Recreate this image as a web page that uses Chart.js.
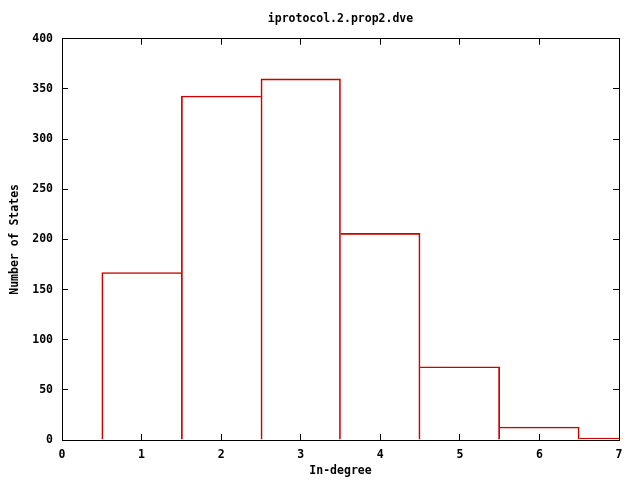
<!DOCTYPE html>
<html><head><meta charset="utf-8">
<script src="https://cdn.jsdelivr.net/npm/chart.js@4"></script>
<style>html,body{margin:0;padding:0;background:#fff}canvas{display:block}</style>
</head><body>
<canvas id="c" width="640" height="480"></canvas>
<script>
const inDegree = [1, 2, 3, 4, 5, 6, 7];
const numStates = [167, 343, 360, 206, 73, 13, 2];
const xTicks = [0, 1, 2, 3, 4, 5, 6, 7];
const yTicks = [0, 50, 100, 150, 200, 250, 300, 350, 400];
const titleText = 'iprotocol.2.prop2.dve';
const xTitle = 'In-degree';
const yTitle = 'Number of States';

const FONT = { family: '"DejaVu Sans Mono", "Liberation Mono", monospace', size: 11.5, weight: 'bold', lineHeight: 1.2 };
const RED = '#cc0000';

const pts = inDegree.map((x, i) => ({ x: x, y: numStates[i] }));

// draw each shared edge once (outline like gnuplot boxes)
function edgeWidths(ctx) {
  const i = ctx.dataIndex, v = numStates;
  return {
    top: 1,
    bottom: 0,
    left: (i === 0 || v[i] >= v[i - 1]) ? 1 : 0,
    right: (i === v.length - 1 || v[i] > v[i + 1]) ? 1 : 0
  };
}

Chart.defaults.font = FONT;
Chart.defaults.color = '#000';

new Chart(document.getElementById('c'), {
  type: 'bar',
  data: {
    datasets: [{
      data: pts,
      backgroundColor: 'rgba(255,255,255,0)',
      borderColor: RED,
      borderWidth: edgeWidths,
      borderSkipped: false,
      barPercentage: 1,
      categoryPercentage: 1,
      clip: 0,
      xAxisID: 'x',
      yAxisID: 'y'
    }]
  },
  options: {
    responsive: false,
    animation: false,
    events: [],
    layout: { padding: { left: 0, right: 21, top: 0, bottom: 0 } },
    plugins: {
      legend: { display: false },
      tooltip: { enabled: false },
      title: {
        display: true,
        fullSize: false,
        text: titleText,
        font: FONT,
        color: '#000',
        padding: { top: 12, bottom: 13 }
      }
    },
    scales: {
      x: {
        type: 'linear', position: 'bottom', min: 0, max: 7, offset: false,
        afterBuildTicks: s => { s.ticks = xTicks.map(v => ({ value: v })); },
        afterFit: s => { s.height = 40; },
        ticks: { font: FONT, color: '#000', padding: 14, maxRotation: 0, autoSkip: false },
        grid: { offset: false, drawOnChartArea: false, drawTicks: true, tickLength: -6, color: '#000', lineWidth: 1 },
        border: { display: true, color: '#000', width: 1 },
        title: { display: true, text: xTitle, font: FONT, color: '#000', padding: { top: 0, bottom: 2 } }
      },
      x2: {
        type: 'linear', position: 'top', min: 0, max: 7, offset: false,
        afterBuildTicks: s => { s.ticks = xTicks.map(v => ({ value: v })); },
        afterFit: s => { s.height = 0; },
        ticks: { display: false },
        grid: { offset: false, drawOnChartArea: false, drawTicks: true, tickLength: -6, color: '#000', lineWidth: 1 },
        border: { display: true, color: '#000', width: 1 }
      },
      y: {
        type: 'linear', position: 'left', min: 0, max: 400,
        afterBuildTicks: s => { s.ticks = yTicks.map(v => ({ value: v })); },
        afterFit: s => { s.width = 62; },
        ticks: { font: FONT, color: '#000', padding: 15 },
        grid: { drawOnChartArea: false, drawTicks: true, tickLength: -6, color: '#000', lineWidth: 1 },
        border: { display: true, color: '#000', width: 1 },
        title: { display: true, text: yTitle, font: FONT, color: '#000', padding: { top: 8, bottom: 0 } }
      },
      y2: {
        type: 'linear', position: 'right', min: 0, max: 400,
        afterBuildTicks: s => { s.ticks = yTicks.map(v => ({ value: v })); },
        afterFit: s => { s.width = 0; },
        ticks: { display: false },
        grid: { drawOnChartArea: false, drawTicks: true, tickLength: -6, color: '#000', lineWidth: 1 },
        border: { display: true, color: '#000', width: 1 }
      }
    }
  }
});
</script>
</body></html>
